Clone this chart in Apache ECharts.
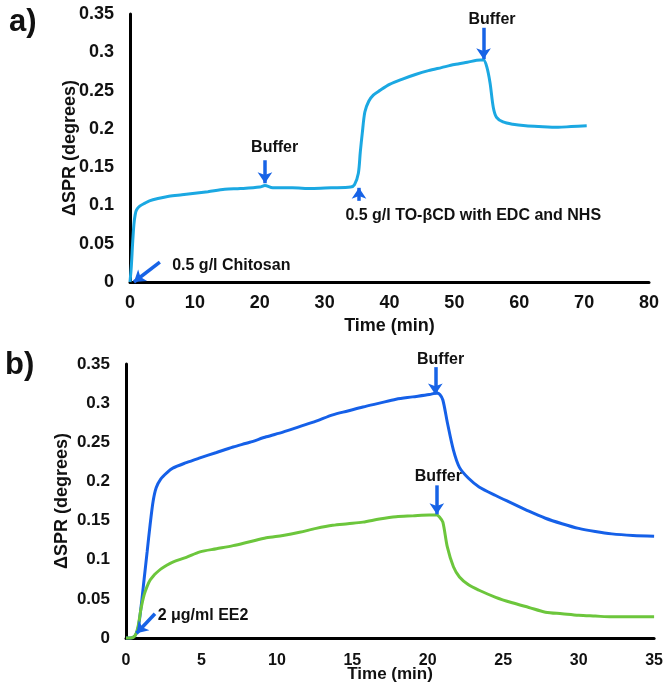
<!DOCTYPE html>
<html>
<head>
<meta charset="utf-8">
<script src="https://cdn.jsdelivr.net/npm/echarts@6/dist/echarts.min.js"></script>
<style>
html,body{margin:0;padding:0;background:#fff;}
#chart{width:666px;height:690px;}
</style>
</head>
<body>
<div id="chart"></div>
<script>
// ---- Panel a) data ----
var timeA = [0,0.2,0.4,0.6,0.8,1.0,1.5,2.3,3.0,4.3,6,8,10,12,14.6,17,20,20.8,22,25,28,31,34,34.6,35.2,35.5,35.8,36.2,36.8,37.5,38.5,40,42,44,46,48,50,52,54,54.5,55,55.5,56,56.5,57.5,59,61,63,66,68,70.4];
var sprA  = [0,0.02,0.05,0.075,0.088,0.094,0.099,0.103,0.106,0.109,0.112,0.114,0.116,0.118,0.121,0.122,0.124,0.126,0.123,0.123,0.122,0.123,0.124,0.127,0.142,0.17,0.194,0.222,0.236,0.244,0.25,0.258,0.265,0.271,0.276,0.28,0.284,0.287,0.29,0.29,0.281,0.26,0.228,0.215,0.209,0.206,0.204,0.203,0.202,0.203,0.204];

// ---- Panel b) data ----
var timeB = [0,0.3,0.6,0.8,1.0,1.2,1.4,1.6,1.8,2.0,2.3,2.7,3.1,4,4.9,6,7.1,8.2,9.3,10.4,11.5,12.6,13.7,14.7,15.7,16.8,17.9,19,20.1,20.6,20.8,21.0,21.3,21.7,22.1,22.7,23.4,24.5,25.6,26.7,27.8,28.9,30,31.1,32.2,33.6,35];
var sprBlue = [0,0,0.003,0.012,0.04,0.075,0.11,0.145,0.175,0.192,0.203,0.211,0.217,0.224,0.23,0.237,0.244,0.25,0.257,0.263,0.27,0.277,0.285,0.29,0.295,0.3,0.305,0.308,0.311,0.313,0.311,0.304,0.275,0.24,0.218,0.204,0.193,0.182,0.172,0.162,0.153,0.146,0.14,0.136,0.133,0.131,0.13];
var sprGreen = [0,0,0.003,0.015,0.038,0.055,0.066,0.074,0.079,0.083,0.088,0.093,0.097,0.103,0.11,0.114,0.118,0.123,0.128,0.131,0.135,0.14,0.144,0.146,0.148,0.152,0.155,0.156,0.157,0.157,0.154,0.148,0.116,0.091,0.078,0.068,0.061,0.052,0.045,0.039,0.033,0.031,0.029,0.028,0.027,0.027,0.027];

var yTicks = [0,0.05,0.1,0.15,0.2,0.25,0.3,0.35];
var panelLabels = ['a)','b)'];
var xTitle = 'Time (min)';
var yTitle = 'ΔSPR (degrees)';

// annotation texts [gridIndex, [time, spr], text, align]
var notes = [
  [0, [22.3, 0.175], 'Buffer', 'center'],
  [0, [55.8, 0.343], 'Buffer', 'center'],
  [0, [6.5, 0.022], '0.5 g/l Chitosan', 'left'],
  [0, [33.2, 0.087], '0.5 g/l TO-βCD with EDC and NHS', 'left'],
  [1, [20.85, 0.356], 'Buffer', 'center'],
  [1, [20.7, 0.206], 'Buffer', 'center'],
  [1, [2.1, 0.028], '2 μg/ml EE2', 'left']
];

function zip(xs, ys){ return xs.map(function(x,i){ return [x, ys[i]]; }); }

var FONT = '"Liberation Sans", Arial, Helvetica, sans-serif';
var ARROW = '#1763E6';

function arrow(from, to){
  return [{coord: from}, {coord: to}];
}
var markLineBase = {
  silent: true, animation: false,
  symbol: ['none','arrow'], symbolSize: [11, 11],
  label: {show: false},
  lineStyle: {color: ARROW, width: 3.5, type: 'solid'},
  emphasis: {disabled: true}
};

var chart = echarts.init(document.getElementById('chart'), null, {renderer: 'canvas'});

function yAxisCfg(gridIndex, fs, gap){
  return {
    type: 'value', gridIndex: gridIndex, min: 0, max: 0.35, interval: 0.05,
    name: yTitle, nameLocation: 'middle', nameGap: gap, nameRotate: 90, nameMoveOverlap: false,
    nameTextStyle: {fontFamily: FONT, fontWeight: 'bold', fontSize: 18, color: '#111'},
    axisLine: {show: true, lineStyle: {color: '#000', width: 3}},
    axisTick: {show: false}, splitLine: {show: false},
    axisLabel: {fontFamily: FONT, fontWeight: 'bold', fontSize: fs, color: '#111', margin: 16,
      formatter: function(v){ var t = yTicks.filter(function(k){return Math.abs(k-v)<1e-9;}); return t.length ? String(t[0]) : ''; }}
  };
}
function xAxisCfg(gridIndex, max, interval, fs, gap, margin, nfs){
  return {
    type: 'value', gridIndex: gridIndex, min: 0, max: max, interval: interval,
    name: xTitle, nameLocation: 'middle', nameGap: gap, nameMoveOverlap: false,
    nameTextStyle: {fontFamily: FONT, fontWeight: 'bold', fontSize: nfs, color: '#111'},
    axisLine: {show: true, onZero: false, lineStyle: {color: '#000', width: 3}},
    axisTick: {show: false}, splitLine: {show: false},
    axisLabel: {fontFamily: FONT, fontWeight: 'bold', fontSize: fs, color: '#111', margin: margin}
  };
}

var option = {
  backgroundColor: '#fff',
  animation: false,
  title: [
    {text: panelLabels[0], left: 4, top: 2, textStyle: {fontFamily: FONT, fontWeight: 'bold', fontSize: 31, color: '#111'}},
    {text: panelLabels[1], left: 0, top: 345, textStyle: {fontFamily: FONT, fontWeight: 'bold', fontSize: 31, color: '#111'}}
  ],
  grid: [
    {left: 130, top: 14, width: 519, height: 268},
    {left: 126, top: 364, width: 529, height: 274}
  ],
  xAxis: [
    xAxisCfg(0, 80, 10, 18, 35, 12, 18),
    xAxisCfg(1, 35, 5, 16, 28, 15, 17)
  ],
  yAxis: [
    yAxisCfg(0, 18, 51),
    yAxisCfg(1, 17, 55)
  ],
  series: [
    {
      type: 'line', xAxisIndex: 0, yAxisIndex: 0, data: zip(timeA, sprA),
      showSymbol: false, smooth: 0.3, clip: false,
      lineStyle: {color: '#1BA8E2', width: 3},
      markLine: Object.assign({}, markLineBase, {data: [
        arrow([20.8, 0.159], [20.8, 0.129]),
        arrow([4.6, 0.026], [0.6, 0.0]),
        arrow([35.3, 0.106], [35.3, 0.123]),
        arrow([54.5, 0.332], [54.5, 0.291])
      ]})
    },
    {
      type: 'line', xAxisIndex: 1, yAxisIndex: 1, data: zip(timeB, sprBlue),
      showSymbol: false, smooth: 0.3, clip: false,
      lineStyle: {color: '#1560E8', width: 3},
      markLine: Object.assign({}, markLineBase, {data: [
        arrow([20.5, 0.346], [20.5, 0.311]),
        arrow([1.92, 0.031], [0.7, 0.006])
      ]})
    },
    {
      type: 'line', xAxisIndex: 1, yAxisIndex: 1, data: zip(timeB, sprGreen),
      showSymbol: false, smooth: 0.3, clip: false,
      lineStyle: {color: '#6CC63C', width: 3},
      markLine: Object.assign({}, markLineBase, {data: [
        arrow([20.6, 0.195], [20.6, 0.158])
      ]})
    }
  ]
};
chart.setOption(option);

// place annotation texts at data coordinates through the axes
var graphics = notes.map(function(n){
  var p = chart.convertToPixel({gridIndex: n[0]}, n[1]);
  return {type: 'text', x: p[0], y: p[1], silent: true,
    style: {text: n[2], align: n[3], verticalAlign: 'middle',
      font: 'bold 16px ' + FONT, fill: '#111'}};
});
chart.setOption({graphic: graphics});
</script>
</body>
</html>
